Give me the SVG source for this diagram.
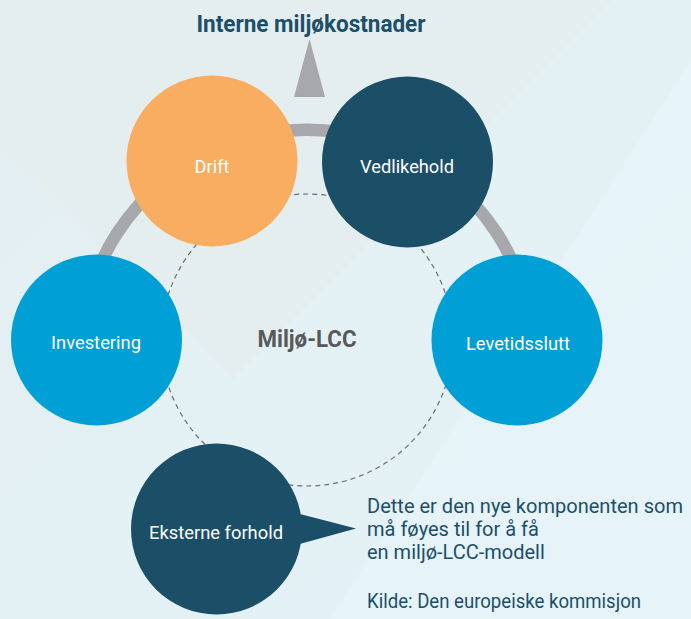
<svg xmlns="http://www.w3.org/2000/svg" width="691" height="619" viewBox="0 0 691 619">
  <defs>
    <linearGradient id="bg" x1="0" y1="0" x2="1" y2="1">
      <stop offset="0" stop-color="#e3eef0"/>
      <stop offset="1" stop-color="#e4f3f9"/>
    </linearGradient>
    <style>
      .lbl { font-family: Roboto, "Liberation Sans", sans-serif; font-size: 18.5px; fill: #ffffff; text-anchor: middle; }
      .note { font-family: Roboto, "Liberation Sans", sans-serif; font-size: 20px; fill: #1d4f68; }
      .dark { fill: #1b4f68; }
      .blue { fill: #00a0d6; }
      .orange { fill: #f9ad61; }
    </style>
  </defs>

  <!-- background -->
  <rect x="0" y="0" width="691" height="619" fill="url(#bg)"/>
  <polygon points="233,379 612,0 0,0 0,146" fill="#e4eded" opacity="0.9"/>
  <polygon points="691,60 691,619 330,619" fill="#e8f5fa" opacity="0.6"/>

  <!-- title and arrow -->
  <text x="311" y="32" font-family="Roboto, 'Liberation Sans', sans-serif" font-size="24" font-weight="bold" fill="#1c4f6a" text-anchor="middle" textLength="229" lengthAdjust="spacingAndGlyphs">Interne miljøkostnader</text>
  <polygon points="309.5,39 294,97 325,97" fill="#a7a8ab"/>

  <!-- connectors -->
  <g id="connectors">
    <path d="M 88 300 A 226 226 0 0 1 526 300" fill="none" stroke="#a7a8ab" stroke-width="12.5"/>
    <circle cx="307" cy="340" r="146" fill="none" stroke="#6b6d70" stroke-width="1.2" stroke-dasharray="5 4"/>
  </g>

  <text x="307" y="347" font-family="Roboto, 'Liberation Sans', sans-serif" font-size="23" font-weight="bold" fill="#58595b" text-anchor="middle" textLength="99" lengthAdjust="spacingAndGlyphs">Miljø-LCC</text>

  <!-- nodes -->
  <g id="node-drift">
    <circle cx="212" cy="161" r="85.5" class="orange"/>
    <text x="212" y="173" class="lbl" textLength="35" lengthAdjust="spacingAndGlyphs">Drift</text>
  </g>
  <g id="node-vedlikehold">
    <circle cx="407.5" cy="162" r="85.5" class="dark"/>
    <text x="407" y="173" class="lbl" textLength="94" lengthAdjust="spacingAndGlyphs">Vedlikehold</text>
  </g>
  <g id="node-investering">
    <circle cx="96.5" cy="340" r="85.5" class="blue"/>
    <text x="96" y="349" class="lbl" textLength="90" lengthAdjust="spacingAndGlyphs">Investering</text>
  </g>
  <g id="node-levetidsslutt">
    <circle cx="517" cy="340" r="85.5" class="blue"/>
    <text x="518" y="350" class="lbl" textLength="104" lengthAdjust="spacingAndGlyphs">Levetidsslutt</text>
  </g>
  <g id="node-eksterne">
    <circle cx="216.5" cy="529" r="85.5" class="dark"/>
    <polygon points="296,513 356,528.5 296,545" class="dark"/>
    <text x="216" y="539" class="lbl" textLength="134" lengthAdjust="spacingAndGlyphs">Eksterne forhold</text>
  </g>

  <!-- notes -->
  <g id="note">
    <text x="367" y="513" class="note" textLength="316" lengthAdjust="spacingAndGlyphs">Dette er den nye komponenten som</text>
    <text x="367" y="536" class="note">må føyes til for å få</text>
    <text x="367" y="558.5" class="note">en miljø-LCC-modell</text>
    <text x="367" y="607.5" class="note" textLength="274" lengthAdjust="spacingAndGlyphs">Kilde: Den europeiske kommisjon</text>
  </g>
</svg>
